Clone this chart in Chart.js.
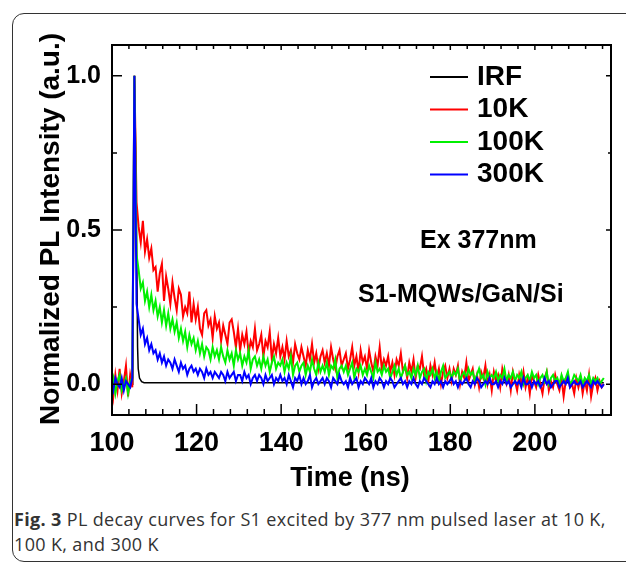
<!DOCTYPE html>
<html>
<head>
<meta charset="utf-8">
<script src="https://cdn.jsdelivr.net/npm/chart.js@4"></script>
<style>
  body { margin: 0; background: #fff; width: 626px; height: 563px; overflow: hidden; position: relative; }
  #frame { position: absolute; left: 12px; top: 13px; width: 720px; height: 547px; border: 1.5px solid #333; border-radius: 12px; }
  #wrap { position: absolute; left: 0; top: 0; width: 626px; height: 500px; }
  #caption { position: absolute; left: 14px; top: 507px; font-family: "Open Sans", "Liberation Sans", sans-serif; font-size: 18px; letter-spacing: 0.35px; line-height: 25px; color: #333; white-space: nowrap; }
</style>
</head>
<body>
<div id="frame"></div>
<div id="wrap"><canvas id="decayChart" width="626" height="500"></canvas></div>
<div id="caption"><b>Fig. 3</b> PL decay curves for S1 excited by 377 nm pulsed laser at 10 K,<br>100 K, and 300 K</div>
<script>
// sampling of the TCSPC traces (ns)
const timeStart = 99.8;
const timeStep = 0.5;

// IRF
const irfTime   = [99.8, 104.9, 105.3, 105.6, 105.9, 106.05, 106.2, 106.5, 107.0, 107.6, 216.3];
const irfValues = [0.0, 0.0, 1.0, 0.75, 0.35, 0.12, 0.05, 0.02, 0.008, 0.005, 0.005];

// normalized intensity x 0.01, one value per sample
const k10 = [
  2, -4, 3, -2, 5, -3, 1, 6, -4, 3, -1,
  100, 59,
  51, 46, 53, 43, 47, 41, 44, 37,
  38, 30, 36, 39, 27, 35, 31, 26, 33, 28,
  24, 31, 29, 22, 25, 23, 30, 20, 26, 21,
  25, 18, 16, 23, 24, 19, 21, 15, 22, 18,
  20, 14, 19, 16, 13, 20, 21, 17, 12, 18,
  11, 16, 13, 17, 10, 14, 12, 18, 11, 13,
  16, 9, 14, 12, 17, 8, 13, 10, 15, 9,
  12, 8, 14, 9, 11, 7, 13, 10, 8, 12,
  9, 6, 11, 8, 13, 7, 10, 5, 9, 11,
  7, 10, 6, 12, 8, 5, 9, 11, 6, 8,
  10, 5, 8, 12, 6, 9, 4, 11, 7, 9,
  5, 11, 7, 4, 9, 6, 12, 5, 8, 6,
  9, 4, 7, 3, 8, 6, 10, 4, 6, 2,
  7, 4, 8, 2, 6, 5, 9, 3, 5, 1,
  6, 3, 7, 2, 5, 0, 4, 6, 2, 5,
  1, 5, 3, 6, 0, 4, 2, 7, 1, 3,
  5, 0, 3, -1, 4, 2, 6, 0, 3, -2,
  4, 1, 3, -1, 5, 2, 0, 3, -2, 4,
  1, -2, 3, 0, 4, -1, 2, -3, 3, 1,
  -1, 3, 0, -3, 2, 4, -2, 1, -1, 3,
  0, -2, 2, -4, 1, 3, -1, 0, -3, 2,
  -1, 2, -3, 1, -2, 3, -4, 0, 2, -2, 1, -1, 0
];
const k100 = [
  -1, 2, -3, 1, 3, -2, 0, 2, -3, 1, 2,
  100, 42,
  37, 31, 33, 27, 30, 25, 29, 24,
  27, 22, 25, 20, 24, 19, 23, 18, 21, 17,
  20, 15, 18, 14, 17, 12, 16, 13, 15, 11,
  14, 10, 13, 9, 12, 11, 8, 12, 9, 11,
  8, 12, 9, 7, 11, 8, 10, 6, 11, 8,
  10, 6, 9, 7, 11, 5, 8, 9, 6, 8,
  5, 9, 6, 8, 4, 7, 9, 5, 7, 6,
  8, 4, 7, 5, 9, 3, 6, 7, 4, 6,
  7, 3, 6, 4, 8, 5, 3, 7, 4, 6,
  4, 7, 3, 6, 5, 8, 2, 5, 6, 4,
  6, 3, 5, 7, 2, 5, 4, 6, 3, 5,
  3, 6, 4, 2, 7, 4, 5, 3, 6, 4,
  5, 2, 4, 6, 3, 5, 2, 4, 6, 3,
  4, 2, 5, 3, 6, 2, 4, 5, 1, 4,
  3, 5, 2, 4, 1, 4, 6, 2, 3, 4,
  2, 4, 3, 5, 1, 3, 4, 2, 5, 3,
  4, 1, 3, 5, 2, 3, 0, 4, 2, 3,
  2, 4, 1, 3, 2, 5, 1, 3, 2, 4,
  1, 3, 2, 4, 0, 2, 3, 1, 4, 2,
  3, 0, 2, 3, 1, 4, 0, 2, 3, 1,
  2, 0, 3, 1, 2, 4, 0, 1, 3, 2,
  1, 3, 0, 2, 1, 3, 0, 2, 1, 2, 0, 1, 2
];
const k300 = [
  1, -2, 2, 0, -1, 2, -2, 1, 0, -1, 2,
  100, 26,
  21, 16, 18, 13, 15, 11, 13, 10,
  11, 8, 10, 7, 9, 6, 8, 7, 5, 8,
  6, 4, 7, 5, 6, 3, 5, 6, 4, 5,
  3, 5, 4, 2, 5, 3, 4, 2, 4, 3,
  2, 4, 3, 1, 4, 2, 3, 4, 1, 3,
  3, 1, 4, 2, 3, 0, 2, 3, 1, 3,
  2, 0, 3, 1, 2, 3, 0, 2, 1, 3,
  1, 2, 0, 3, 1, -1, 2, 1, 3, 0,
  2, 0, 1, 3, -1, 1, 2, 0, 1, 2,
  0, 2, 1, -1, 2, 1, 0, 3, 1, 0,
  1, -1, 2, 0, 1, 2, -1, 1, 0, 2,
  1, 0, 2, -1, 1, 0, 2, 1, -1, 1,
  0, 2, 1, -1, 0, 1, 2, 0, 1, -1,
  1, 0, 2, 0, -1, 1, 0, 2, 1, 0,
  -1, 1, 0, 2, 0, 1, -1, 1, 0, 1,
  2, 0, 1, -1, 1, 0, 1, 2, 0, -1,
  1, 0, 2, 1, -1, 0, 1, 0, 2, 0,
  0, 1, -1, 1, 0, 2, 0, 1, -1, 0,
  1, 0, 1, -1, 2, 0, 0, 1, -1, 1,
  0, 1, -1, 0, 2, 0, 1, -1, 0, 1,
  1, -1, 0, 1, 0, 2, -1, 0, 1, 0,
  0, 1, -1, 0, 1, 0, -1, 1, 0, 1, 0, -1, 0
];

const seriesLabels = ['IRF', '10K', '100K', '300K'];
const seriesColors = ['#000000', '#ff0000', '#00f000', '#0000ff'];

const xMajorTicks = [100, 120, 140, 160, 180, 200];
const xMinorTicks = [104, 108, 112, 116, 124, 128, 132, 136, 144, 148, 152, 156, 164, 168, 172, 176, 184, 188, 192, 196, 204, 208, 212, 216];
const yMajorTicks = [0, 0.5, 1.0];
const yMinorTicks = [0.25, 0.75];

const toPoints = vals => vals.map((v, i) => ({ x: timeStart + i * timeStep, y: v / 100 }));
const FONT = '"Liberation Sans", Arial, sans-serif';

const decor = {
  id: 'decor',
  afterDraw(chart) {
    const { ctx, chartArea: a, scales: { x, y } } = chart;
    ctx.save();
    ctx.strokeStyle = '#000';
    ctx.lineWidth = 1.5;
    ctx.beginPath();
    xMajorTicks.forEach(v => {
      const p = x.getPixelForValue(v);
      ctx.moveTo(p, a.bottom); ctx.lineTo(p, a.bottom - 11);
      ctx.moveTo(p, a.top); ctx.lineTo(p, a.top + 5);
    });
    xMinorTicks.forEach(v => {
      const p = x.getPixelForValue(v);
      ctx.moveTo(p, a.bottom); ctx.lineTo(p, a.bottom - 6);
      ctx.moveTo(p, a.top); ctx.lineTo(p, a.top + 4);
    });
    yMajorTicks.forEach(v => {
      const p = y.getPixelForValue(v);
      ctx.moveTo(a.left, p); ctx.lineTo(a.left + 10, p);
      ctx.moveTo(a.right, p); ctx.lineTo(a.right - 5, p);
    });
    yMinorTicks.forEach(v => {
      const p = y.getPixelForValue(v);
      ctx.moveTo(a.left, p); ctx.lineTo(a.left + 5, p);
      ctx.moveTo(a.right, p); ctx.lineTo(a.right - 3, p);
    });
    ctx.stroke();
    ctx.lineWidth = 2;
    ctx.strokeRect(a.left, a.top, a.width, a.height);

    // legend inside the plot
    ctx.fillStyle = '#000';
    ctx.font = 'bold 28px ' + FONT;
    ctx.textBaseline = 'middle';
    ctx.textAlign = 'left';
    seriesLabels.forEach((lab, i) => {
      const yy = 77 + i * 32.5;
      ctx.strokeStyle = seriesColors[i];
      ctx.lineWidth = 2;
      ctx.beginPath(); ctx.moveTo(430, yy); ctx.lineTo(468, yy); ctx.stroke();
      ctx.fillText(lab, 477, yy);
    });

    ctx.font = 'bold 25px ' + FONT;
    ctx.fillText('Ex 377nm', 420, 241);
    ctx.fillText('S1-MQWs/GaN/Si', 358, 295);

    // axis titles
    ctx.font = 'bold 27px ' + FONT;
    ctx.textAlign = 'center';
    ctx.fillText('Time (ns)', 350, 479);
    ctx.translate(51, 229);
    ctx.rotate(-Math.PI / 2);
    ctx.font = 'bold 28px ' + FONT;
    ctx.fillText('Normalized PL Intensity (a.u.)', 0, 0);
    ctx.restore();
  }
};

new Chart(document.getElementById('decayChart'), {
  type: 'line',
  data: {
    datasets: [
      { label: seriesLabels[1], data: toPoints(k10), borderColor: seriesColors[1], order: 3 },
      { label: seriesLabels[2], data: toPoints(k100), borderColor: seriesColors[2], order: 2 },
      { label: seriesLabels[3], data: toPoints(k300), borderColor: seriesColors[3], order: 1 },
      { label: seriesLabels[0], data: irfTime.map((t, i) => ({ x: t, y: irfValues[i] })), borderColor: seriesColors[0], borderWidth: 1.5, order: 4 }
    ]
  },
  options: {
    responsive: false,
    animation: false,
    devicePixelRatio: 1,
    layout: { padding: { top: 45, right: 15, left: 0, bottom: 0 } },
    elements: { point: { radius: 0 }, line: { borderWidth: 2, tension: 0 } },
    plugins: { legend: { display: false }, tooltip: { enabled: false } },
    scales: {
      x: {
        type: 'linear', min: 100, max: 218,
        grid: { display: false, drawTicks: false },
        border: { display: false },
        afterBuildTicks: s => { s.ticks = xMajorTicks.map(v => ({ value: v })); },
        afterFit: s => { s.height = 85; },
        ticks: { color: '#000', padding: 12, maxRotation: 0, font: { family: FONT, size: 27, weight: 'bold' } }
      },
      y: {
        type: 'linear', min: -0.1, max: 1.1,
        grid: { display: false, drawTicks: false },
        border: { display: false },
        afterBuildTicks: s => { s.ticks = yMajorTicks.map(v => ({ value: v })); },
        afterFit: s => { s.width = 112; },
        ticks: { color: '#000', padding: 11, callback: v => v.toFixed(1), font: { family: FONT, size: 25, weight: 'bold' } }
      }
    }
  },
  plugins: [decor]
});
</script>
</body>
</html>
